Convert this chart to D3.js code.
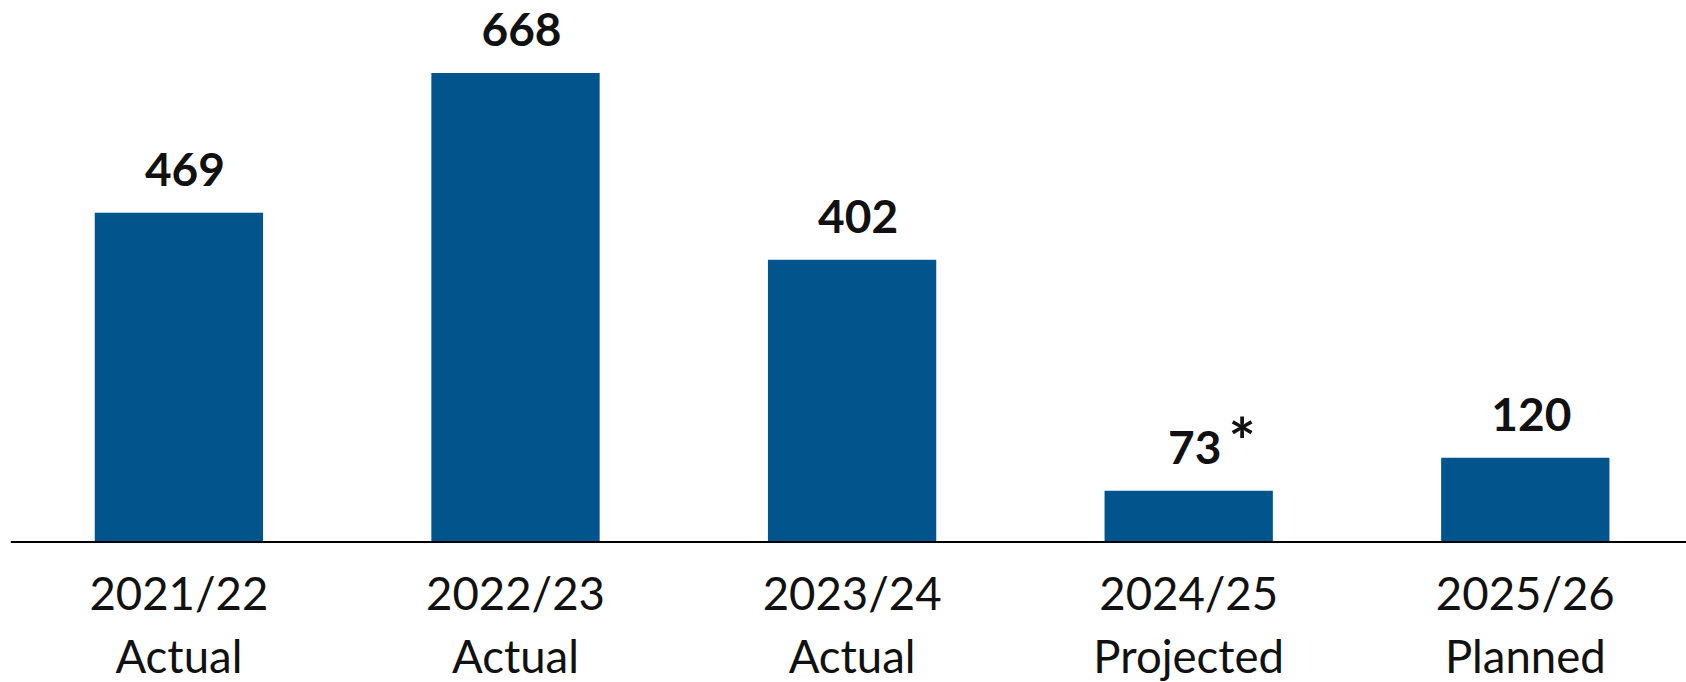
<!DOCTYPE html>
<html>
<head>
<meta charset="utf-8">
<script src="https://cdn.jsdelivr.net/npm/d3@7"></script>
<style>
  html, body { margin: 0; padding: 0; background: #ffffff; }
  svg { display: block; }
</style>
</head>
<body>
<svg id="chart" width="1686" height="682"></svg>
<script>
// Fiscal years, their status, and the value for each year
const years = ["2021/22", "2022/23", "2023/24", "2024/25", "2025/26"];
const statuses = ["Actual", "Actual", "Actual", "Projected", "Planned"];
const values = [469, 668, 402, 73, 120];
const notes = ["", "", "", "*", ""];

const width = 1686, height = 682;
const baseline = 542;
const barColor = "#02558C";
const fontFamily = "Lato, 'Open Sans', sans-serif";

const svg = d3.select("#chart");

const x = d3.scaleBand()
  .domain(years)
  .range([10.6, 1693.6])
  .paddingInner(0.5)
  .paddingOuter(0.25);

const y = d3.scaleLinear()
  .domain([0, 700])
  .range([baseline, baseline - 700 * (469 / 668)]);

const rows = years.map((yr, i) => ({ year: yr, status: statuses[i], value: values[i], note: notes[i] }));

// Bars
svg.append("g")
  .selectAll("rect")
  .data(rows)
  .join("rect")
  .attr("x", d => x(d.year))
  .attr("y", d => y(d.value))
  .attr("width", x.bandwidth())
  .attr("height", d => y(0) - y(d.value))
  .attr("fill", barColor);

// Value labels above each bar
const labels = svg.append("g")
  .selectAll("text")
  .data(rows)
  .join("text")
  .attr("x", d => x(d.year) + x.bandwidth() / 2 + 6)
  .attr("y", d => y(d.value) - 27)
  .attr("text-anchor", "middle")
  .attr("font-family", fontFamily)
  .attr("font-weight", 700)
  .attr("font-size", 46)
  .attr("fill", "#111111")
  .text(d => d.value);

// Footnote markers next to a value label
labels.each(function(d) {
  if (!d.note) return;
  const bb = this.getBBox();
  svg.append("text")
    .attr("x", bb.x + bb.width + 7)
    .attr("y", y(d.value) - 26)
    .attr("font-family", fontFamily)
    .attr("font-weight", 700)
    .attr("font-size", 64)
    .attr("fill", "#111111")
    .text(d.note);
});

// Category axis with two-line labels
const axis = svg.append("g")
  .attr("transform", `translate(0,${baseline})`)
  .call(d3.axisBottom(x).tickSize(0).tickSizeOuter(0).tickPadding(0));

axis.select(".domain").remove();
axis.append("line")
  .attr("x1", 10.8)
  .attr("x2", width)
  .attr("y1", 0)
  .attr("y2", 0)
  .attr("stroke", "#000000")
  .attr("stroke-width", 2);

axis.selectAll(".tick text")
  .attr("font-family", fontFamily)
  .attr("font-size", 45.5)
  .attr("fill", "#111111")
  .attr("dy", null)
  .attr("y", null)
  .text(null)
  .each(function(d, i) {
    const t = d3.select(this);
    t.append("tspan").attr("x", 0).attr("y", 68).text(d);
    t.append("tspan").attr("x", 0).attr("y", 131).text(statuses[i]);
  });
</script>
</body>
</html>
